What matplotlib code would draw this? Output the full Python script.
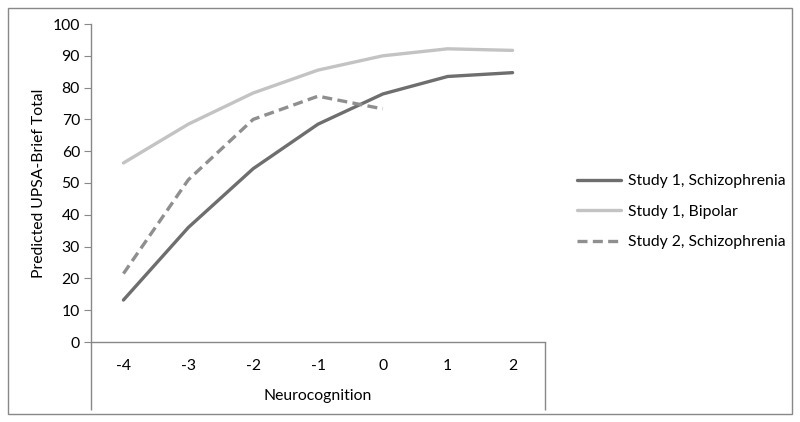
import matplotlib.pyplot as plt
from matplotlib.patches import Rectangle
from matplotlib.ticker import MultipleLocator, FixedLocator

plt.rcParams['font.family'] = ['Lato', 'DejaVu Sans']

# ---- data ----
x_labels = ['-4', '-3', '-2', '-1', '0', '1', '2']
study1_schiz = [13.2, 36.0, 54.5, 68.5, 78.0, 83.5, 84.7]
study1_bipolar = [56.3, 68.5, 78.3, 85.5, 90.0, 92.2, 91.7]
study2_schiz = [21.5, 51.0, 70.0, 77.3, 73.3]

fs = 11.3
fig = plt.figure(figsize=(8, 4.22), dpi=100)
ax = fig.add_axes([91 / 800, 80 / 422, 454 / 800, 318 / 422])

pos = list(range(len(x_labels)))
ax.plot(pos, study1_schiz, color='#6e6e6e', lw=2.4, label='Study 1, Schizophrenia', solid_capstyle='round')
ax.plot(pos, study1_bipolar, color='#c3c3c3', lw=2.4, label='Study 1, Bipolar', solid_capstyle='round')
ax.plot(pos[:len(study2_schiz)], study2_schiz, color='#8f8f8f', lw=2.4, ls=(0, (3, 1.6)),
        label='Study 2, Schizophrenia')

ax.set_xlim(-0.5, len(x_labels) - 0.5)
ax.set_ylim(0, 100)
ax.yaxis.set_major_locator(MultipleLocator(10))
ax.set_xticks(pos)
ax.set_xticklabels(x_labels)
# long end marks of the category axis
ax.xaxis.set_minor_locator(FixedLocator([-0.5, len(x_labels) - 0.5]))
ax.tick_params(axis='x', which='major', length=0, pad=12, labelsize=fs)
ax.tick_params(axis='x', which='minor', length=49, color='#888888', direction='out', width=1)
ax.tick_params(axis='y', length=5, color='#888888', labelsize=fs, pad=3)

for s in ['top', 'right']:
    ax.spines[s].set_visible(False)
for s in ['left', 'bottom']:
    ax.spines[s].set_color('#888888')
    ax.spines[s].set_linewidth(1)

ax.set_xlabel('Neurocognition', fontsize=fs)
ax.xaxis.set_label_coords(0.5, -0.148)
ax.set_ylabel('Predicted UPSA-Brief Total', fontsize=fs, labelpad=5)

ax.legend(loc='center left', bbox_to_anchor=(1.04, 0.41), frameon=False, fontsize=fs,
          handlelength=2.8, labelspacing=1.05, handletextpad=0.4)

fig.patches.append(Rectangle((8 / 800, 8 / 422), 784 / 800, 406 / 422, transform=fig.transFigure,
                             fill=False, edgecolor='#888888', lw=1))

fig.savefig('out.png', dpi=100)
